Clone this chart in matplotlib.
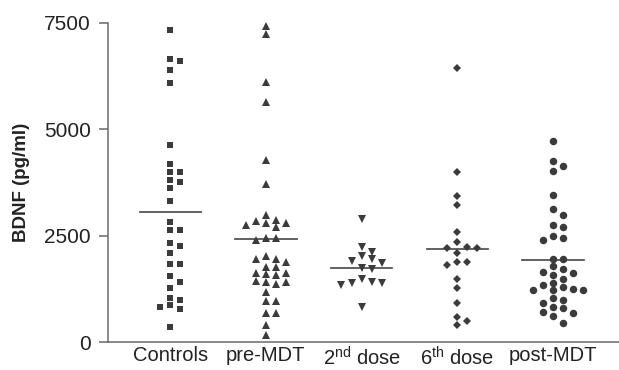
import numpy as np
import matplotlib
matplotlib.use("Agg")
import matplotlib.pyplot as plt

# --- DATA (BDNF, pg/ml) ---
groups = ["Controls", "pre-MDT", "2$^{\\mathrm{nd}}$ dose", "6$^{\\mathrm{th}}$ dose", "post-MDT"]

controls = [7330, 6640, 6590, 6390, 6080, 4620, 4180, 3985, 3985, 3765, 3795, 3615,
            3315, 2810, 2620, 2620, 2320, 2250, 2095, 1835, 1835, 1545, 1410, 1280,
            1045, 975, 825, 775, 880, 355]
pre_mdt = [7430, 7245, 6115, 5630, 4275, 3700, 2980, 2845, 2800, 2860, 2750, 2800,
           2690, 2445, 2390, 2445, 1945, 1880, 1945, 2030, 1765, 1755, 1570, 1625,
           1590, 1625, 1410, 1355, 1410, 1435, 1170, 955, 955, 670, 670, 410, 160]
dose2 = [2885, 2220, 2125, 2015, 1940, 1860, 1905, 1725, 1740, 1410, 1375, 1335,
         1395, 1470, 825]
dose6 = [6430, 3990, 3435, 3220, 2585, 2340, 2205, 2205, 2235, 2080, 1870, 1805,
         1890, 1490, 1265, 925, 590, 395, 485]
post_mdt = [4720, 4245, 4135, 4015, 3445, 3115, 2975, 2740, 2690, 2495, 2400, 2440,
            1960, 1960, 1780, 1655, 1625, 1725, 1470, 1575, 1335, 1215, 1215, 1240,
            1295, 1390, 1215, 995, 1030, 915, 795, 670, 715, 825, 605, 445]

series = [controls, pre_mdt, dose2, dose6, post_mdt]
markers = ["s", "^", "v", "D", "o"]
marker_sizes = [5.0, 6.3, 6.3, 4.2, 5.4]

DARK = "#3b3b3b"
AXIS = "#6a6a6a"

plt.rcParams["font.family"] = ["Liberation Sans", "DejaVu Sans"]
plt.rcParams["mathtext.fontset"] = "custom"
plt.rcParams["mathtext.rm"] = "Liberation Sans"
plt.rcParams["mathtext.sf"] = "Liberation Sans"


def swarm_slots(values, min_gap):
    """Greedy column layout: each point goes to the nearest free column."""
    values = np.asarray(values, dtype=float)
    slots = np.zeros(len(values))
    taken = {}
    for i in np.argsort(values)[::-1]:
        for s in [0, 1, -1, 2, -2, 3, -3, 4, -4]:
            if all(abs(values[i] - v) >= min_gap for v in taken.get(s, [])):
                taken.setdefault(s, []).append(values[i])
                slots[i] = s
                break
    return slots


fig = plt.figure(figsize=(6.19, 3.70), dpi=100)
ax = fig.add_axes([108 / 619, 28 / 370, 511 / 619, 319.3 / 370])

col_width = 0.105
for i, (vals, m, ms) in enumerate(zip(series, markers, marker_sizes)):
    slots = swarm_slots(vals, 165)
    ax.plot(i + slots * col_width, vals, linestyle="none", marker=m, ms=ms,
            color=DARK, markeredgewidth=0, clip_on=False, zorder=3)
    mean = np.mean(vals)
    ax.plot([i - 0.32, i + 0.32], [mean, mean], color="#555555", lw=1.3, zorder=2)

ax.set_xlim(-0.65, 4.69)
ax.set_ylim(0, 7500)
ax.set_yticks([0, 2500, 5000, 7500])
ax.set_xticks(range(len(groups)))
ax.set_xticklabels(groups, fontsize=14.5)
ax.tick_params(axis="x", length=0, pad=3, colors="#222222")
ax.tick_params(axis="y", length=6.5, width=1.1, color=AXIS, labelsize=15,
               pad=6, labelcolor="#222222")

for side in ["top", "right"]:
    ax.spines[side].set_visible(False)
for side in ["left", "bottom"]:
    ax.spines[side].set_color(AXIS)
    ax.spines[side].set_linewidth(1.1)

ax.set_ylabel("BDNF (pg/ml)", fontsize=13.5, fontweight="bold", color="#222222", labelpad=10)

fig.savefig("out.png", dpi=100)
